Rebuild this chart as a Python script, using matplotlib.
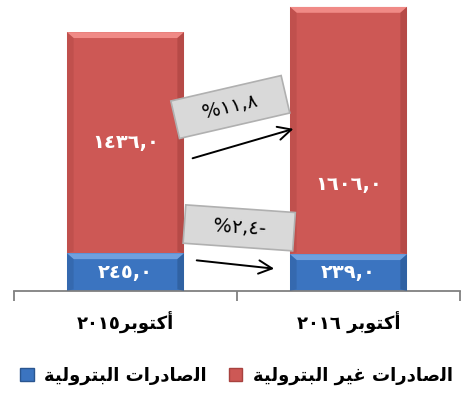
import matplotlib
matplotlib.use('Agg')
import matplotlib.pyplot as plt
from matplotlib.patches import Polygon

plt.rcParams['font.family'] = ['DejaVu Sans']

# الفئات والقيم
categories = ['أكتوبر ٢٠١٥', 'أكتوبر ٢٠١٦']
oil = [245.0, 239.0]            # الصادرات البترولية
non_oil = [1436.0, 1606.0]      # الصادرات غير البترولية
change_non_oil = 11.8
change_oil = -2.4

RED = '#CD5855'
RED_LIGHT = '#F08A86'
RED_DARK = '#A8423F'
BLUE = '#3B74C0'
BLUE_LIGHT = '#6FA0DE'
BLUE_DARK = '#2A5690'

EAST = str.maketrans('0123456789', '٠١٢٣٤٥٦٧٨٩')


def ar_num(v):
    return f'{abs(v):.1f}'.replace('.', ',').translate(EAST)


# أشكال العرض للحروف العربية بترتيب بصري (من اليسار إلى اليمين)
W_OCT = '\uFEAE\uFE91\uFEEE\uFE98\uFEDB\uFE83'          # أكتوبر
W_EXPORTS = '\uFE95\uFE8D\uFEAD\uFEA9\uFE8E\uFEBB\uFEDF\uFE8D'  # الصادرات
W_NOT = '\uFEAE\uFEF4\uFECF'                              # غير
W_PETRO = '\uFE94\uFEF4\uFEDF\uFEED\uFEAE\uFE98\uFE92\uFEDF\uFE8D'  # البترولية

cat_labels = [
    '٢٠١٥' + W_OCT,
    '٢٠١٦ ' + W_OCT,
]
lbl_non_oil = W_PETRO + ' ' + W_NOT + ' ' + W_EXPORTS
lbl_oil = W_PETRO + ' ' + W_EXPORTS

fig = plt.figure(figsize=(4.73, 3.98), dpi=100)
ax = fig.add_axes([14 / 473, 107 / 398, 446 / 473, 291 / 398])

x = [0, 1]
width = 0.525
ax.bar(x, oil, width=width, color=BLUE, zorder=2)
ax.bar(x, non_oil, width=width, bottom=oil, color=RED, zorder=2)

ax.set_xlim(-0.5, 1.5)
ax.set_ylim(0, 1890)

# حواف مشطوفة بسيطة
bev_x = 0.03
bev_y = 38
for xi, o, n in zip(x, oil, non_oil):
    l, r = xi - width / 2, xi + width / 2
    top = o + n
    segs = [(0, o, BLUE_LIGHT, BLUE_DARK), (o, top, RED_LIGHT, RED_DARK)]
    for b, t, light, dark in segs:
        by = min(bev_y, (t - b) / 4)
        ax.add_patch(Polygon([(l, t), (r, t), (r - bev_x, t - by), (l + bev_x, t - by)],
                             closed=True, color=light, lw=0, zorder=3))
        ax.add_patch(Polygon([(r, t), (r, b), (r - bev_x, b + by * 0.3), (r - bev_x, t - by)],
                             closed=True, color=dark, lw=0, zorder=3, alpha=0.6))
        ax.add_patch(Polygon([(l, t), (l, b), (l + bev_x, b + by * 0.3), (l + bev_x, t - by)],
                             closed=True, color=dark, lw=0, zorder=3, alpha=0.35))

# قيم داخل الأعمدة
label_frac = [0.5, 0.28]
for xi, o, n, f in zip(x, oil, non_oil, label_frac):
    ax.text(xi, o + n * f, ar_num(n), color='white', fontsize=14,
            fontweight='bold', ha='center', va='center', zorder=5)
    ax.text(xi, o / 2, ar_num(o), color='white', fontsize=14, fontweight='bold',
            ha='center', va='center', zorder=5)

# المحاور
for s in ['top', 'right', 'left']:
    ax.spines[s].set_visible(False)
ax.spines['bottom'].set_color('#808080')
ax.spines['bottom'].set_linewidth(1.3)
ax.set_yticks([])
ax.set_xticks([-0.5, 0.5, 1.5])
ax.set_xticklabels([])
ax.tick_params(axis='x', length=7, color='#808080', width=1.3, direction='out')
for xi, lab in zip(x, cat_labels):
    ax.annotate(lab, xy=(xi, 0), xycoords=('data', 'axes fraction'), xytext=(0, -23),
                textcoords='offset points', ha='center', va='center', fontsize=13,
                fontweight='bold')


# مربعات النسب والأسهم
def pct_box(cx, cy, text, angle):
    ax.text(cx, cy, '   ' + text + '   ', fontsize=14, ha='center', va='center',
            rotation=angle, rotation_mode='anchor', zorder=6,
            bbox=dict(boxstyle='square,pad=0.5', fc='#D9D9D9', ec='#B0B0B0', lw=1.2))


pct_box(0.47, 1195, '%' + ar_num(change_non_oil), 13)
pct_box(0.51, 410, '%' + ar_num(change_oil) + '-', -4)

ax.annotate('', xy=(0.765, 1058), xytext=(0.289, 857),
            arrowprops=dict(arrowstyle='->', color='black', lw=1.4, mutation_scale=24), zorder=6)
ax.annotate('', xy=(0.679, 143), xytext=(0.307, 201),
            arrowprops=dict(arrowstyle='->', color='black', lw=1.4, mutation_scale=24), zorder=6)

# وسيلة الإيضاح
handles = [plt.Rectangle((0, 0), 1, 1, fc=BLUE, ec=BLUE_DARK),
           plt.Rectangle((0, 0), 1, 1, fc=RED, ec=RED_DARK)]
fig.legend(handles, [lbl_oil, lbl_non_oil], loc='center', bbox_to_anchor=(0.5, 0.055),
           ncol=2, frameon=False, prop=dict(size=13, weight='bold'), handlelength=0.75,
           handleheight=0.75, handletextpad=0.6, columnspacing=1.2)

fig.savefig('out.png', dpi=100)
